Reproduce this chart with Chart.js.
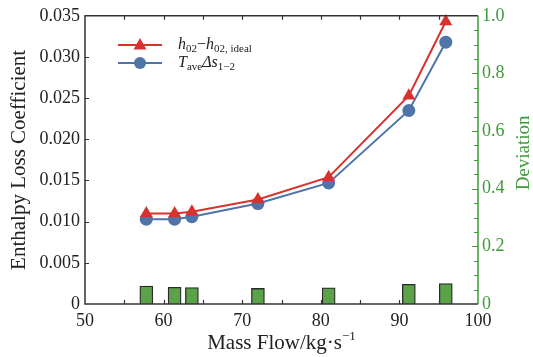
<!DOCTYPE html>
<html>
<head>
<meta charset="utf-8">
<script src="https://cdn.jsdelivr.net/npm/chart.js@4.4.0/dist/chart.umd.min.js"></script>
<style>
  html, body { margin: 0; padding: 0; background: #fff; }
  #wrap { width: 533px; height: 357px; }
</style>
</head>
<body>
<div id="wrap"><canvas id="chart" width="533" height="357"></canvas></div>
<script>
// Mass flow operating points (kg/s)
const massFlow = [57.8, 61.4, 63.6, 72.0, 81.0, 91.2, 95.9];
// h02 - h02,ideal
const enthalpyLoss = [0.0110, 0.0110, 0.0112, 0.0127, 0.0154, 0.0253, 0.0343];
// Tave * delta s(1-2)
const entropyLoss = [0.0103, 0.0103, 0.0106, 0.0122, 0.0147, 0.0235, 0.0318];
// relative deviation between the two
const deviation = [0.062, 0.058, 0.057, 0.054, 0.056, 0.068, 0.071];

// axis ranges / tick steps
const xRange = [50, 100], xMajor = 10, xMinor = 5;
const yRange = [0, 0.035], yMajor = 0.005;
const y2Range = [0, 1], y2Major = 0.2, y2Minor = 0.05;

const SERIF = 'Liberation Serif';
const RED = '#d8322e';
const BLUE = '#4f74a8';
const GREEN = '#5ba249';
const GREEN_AXIS = '#3f9a3a';
const AXIS = '#333333';

Chart.defaults.font.family = SERIF;

const pts = (ys) => massFlow.map((x, i) => ({ x: x, y: ys[i] }));

// rich text: runs of plain / italic / sub / superscript text
function drawRuns(ctx, x, y, runs) {
  for (const r of runs) {
    ctx.font = (r.i ? 'italic ' : '') + r.s + 'px ' + SERIF;
    ctx.fillText(r.t, x, y + (r.dy || 0));
    x += ctx.measureText(r.t).width;
  }
  return x;
}

const framePlugin = {
  id: 'frame',
  afterDraw(chart) {
    const { ctx, chartArea: a, scales } = chart;
    const xs = scales.x, ys = scales.y, y2 = scales.y2;
    ctx.save();
    ctx.lineWidth = 1.5;
    ctx.strokeStyle = AXIS;

    // box (right edge belongs to the deviation axis)
    ctx.beginPath();
    ctx.moveTo(a.right, a.top);
    ctx.lineTo(a.left, a.top);
    ctx.lineTo(a.left, a.bottom);
    ctx.lineTo(a.right, a.bottom);
    ctx.stroke();

    // inward ticks on bottom and top
    ctx.lineWidth = 1.2;
    ctx.beginPath();
    for (let v = xRange[0] + xMinor; v < xRange[1]; v += xMinor) {
      const px = Math.round(xs.getPixelForValue(v)) + 0.5;
      ctx.moveTo(px, a.bottom); ctx.lineTo(px, a.bottom - 4);
      ctx.moveTo(px, a.top); ctx.lineTo(px, a.top + 4);
    }
    // left ticks
    for (let k = 1; k * yMajor < yRange[1] - 1e-9; k++) {
      const py = Math.round(ys.getPixelForValue(k * yMajor)) + 0.5;
      ctx.moveTo(a.left, py); ctx.lineTo(a.left + 4, py);
    }
    ctx.stroke();

    // right axis in green with major + minor ticks
    ctx.strokeStyle = GREEN_AXIS;
    ctx.lineWidth = 1.5;
    ctx.beginPath();
    ctx.moveTo(a.right, a.top); ctx.lineTo(a.right, a.bottom);
    ctx.stroke();
    ctx.lineWidth = 1.2;
    ctx.beginPath();
    for (let k = 1; k * y2Minor < y2Range[1] - 1e-9; k++) {
      const v = k * y2Minor;
      const major = Math.abs(v / y2Major - Math.round(v / y2Major)) < 1e-6;
      const py = Math.round(y2.getPixelForValue(v)) + 0.5;
      ctx.moveTo(a.right, py); ctx.lineTo(a.right - (major ? 6 : 4), py);
    }
    ctx.stroke();

    // axis titles
    ctx.fillStyle = '#222';
    ctx.textBaseline = 'alphabetic';
    ctx.font = '21px ' + SERIF;
    ctx.save();
    ctx.translate(25, (a.top + a.bottom) / 2);
    ctx.rotate(-Math.PI / 2);
    ctx.textAlign = 'center';
    ctx.fillText('Enthalpy Loss Coefficient', 0, 0);
    ctx.restore();

    ctx.save();
    ctx.fillStyle = GREEN_AXIS;
    ctx.font = '19px ' + SERIF;
    ctx.translate(529, (a.top + a.bottom) / 2 - 7);
    ctx.rotate(-Math.PI / 2);
    ctx.textAlign = 'center';
    ctx.fillText('Deviation', 0, 0);
    ctx.restore();

    const xRuns = [{ t: 'Mass Flow/kg·s', s: 21 }, { t: '−1', s: 13, dy: -9 }];
    ctx.font = '21px ' + SERIF;
    let w = ctx.measureText(xRuns[0].t).width;
    ctx.font = '13px ' + SERIF;
    w += ctx.measureText(xRuns[1].t).width;
    ctx.textAlign = 'left';
    drawRuns(ctx, (a.left + a.right) / 2 - w / 2, 349, xRuns);

    // legend
    const lx0 = a.left + 33, lx1 = a.left + 77, lmid = (lx0 + lx1) / 2;
    const rows = [
      { y: 45, color: RED, style: 'triangle', runs: [
        { t: 'h', s: 16, i: true }, { t: '02', s: 11, dy: 3 }, { t: '−', s: 16 },
        { t: 'h', s: 16, i: true }, { t: '02, ideal', s: 11, dy: 3 }] },
      { y: 63, color: BLUE, style: 'circle', runs: [
        { t: 'T', s: 16, i: true }, { t: 'ave', s: 11, dy: 3 },
        { t: 'Δs', s: 16, i: true }, { t: '1−2', s: 11, dy: 3 }] }
    ];
    for (const r of rows) {
      ctx.strokeStyle = r.color;
      ctx.lineWidth = 2;
      ctx.beginPath();
      ctx.moveTo(lx0, r.y); ctx.lineTo(lx1, r.y);
      ctx.stroke();
      ctx.fillStyle = r.color;
      ctx.beginPath();
      if (r.style === 'circle') {
        ctx.arc(lmid, r.y, 6, 0, Math.PI * 2);
      } else {
        ctx.moveTo(lmid, r.y - 7); ctx.lineTo(lmid + 6.5, r.y + 4.5); ctx.lineTo(lmid - 6.5, r.y + 4.5); ctx.closePath();
      }
      ctx.fill();
      ctx.fillStyle = '#222';
      drawRuns(ctx, a.left + 93, r.y + 4, r.runs);
    }
    ctx.restore();
  }
};

new Chart(document.getElementById('chart'), {
  type: 'line',
  data: {
    datasets: [
      {
        type: 'line',
        label: 'h02-h02,ideal',
        data: pts(enthalpyLoss),
        yAxisID: 'y',
        borderColor: RED,
        backgroundColor: RED,
        borderWidth: 2,
        pointStyle: 'triangle',
        pointRadius: 7.5,
        pointBorderWidth: 0,
        tension: 0,
        clip: false,
        order: 1
      },
      {
        type: 'line',
        label: 'Tave ds1-2',
        data: pts(entropyLoss),
        yAxisID: 'y',
        borderColor: BLUE,
        backgroundColor: BLUE,
        borderWidth: 2,
        pointStyle: 'circle',
        pointRadius: 6.5,
        pointBorderWidth: 0,
        tension: 0,
        clip: false,
        order: 2
      },
      {
        type: 'bar',
        label: 'Deviation',
        data: pts(deviation),
        yAxisID: 'y2',
        backgroundColor: GREEN,
        borderColor: '#2a2a2a',
        borderWidth: 1.3,
        barThickness: 13,
        order: 3
      }
    ]
  },
  options: {
    responsive: false,
    animation: false,
    events: [],
    layout: { padding: { top: 12, left: 0, right: 0, bottom: 0 } },
    plugins: { legend: { display: false }, tooltip: { enabled: false } },
    scales: {
      x: {
        type: 'linear',
        min: xRange[0], max: xRange[1],
        offset: false,
        grid: { display: false, drawTicks: false },
        border: { display: false },
        ticks: {
          stepSize: xMajor,
          padding: 6,
          color: '#222',
          font: { family: SERIF, size: 18 }
        },
        afterFit(s) { s.height = 53; }
      },
      y: {
        position: 'left',
        min: yRange[0], max: yRange[1],
        grid: { display: false, drawTicks: false },
        border: { display: false },
        ticks: {
          stepSize: yMajor,
          padding: 5,
          color: '#222',
          font: { family: SERIF, size: 18 },
          callback: (v) => (v === 0 ? '0' : v.toFixed(3))
        },
        afterFit(s) { s.width = 85; }
      },
      y2: {
        position: 'right',
        min: y2Range[0], max: y2Range[1],
        grid: { display: false, drawTicks: false },
        border: { display: false },
        ticks: {
          stepSize: y2Major,
          padding: 4,
          color: GREEN_AXIS,
          font: { family: SERIF, size: 18 },
          callback: (v) => (v === 0 ? '0' : v.toFixed(1))
        },
        afterFit(s) { s.width = 55; }
      }
    }
  },
  plugins: [framePlugin]
});
</script>
</body>
</html>
